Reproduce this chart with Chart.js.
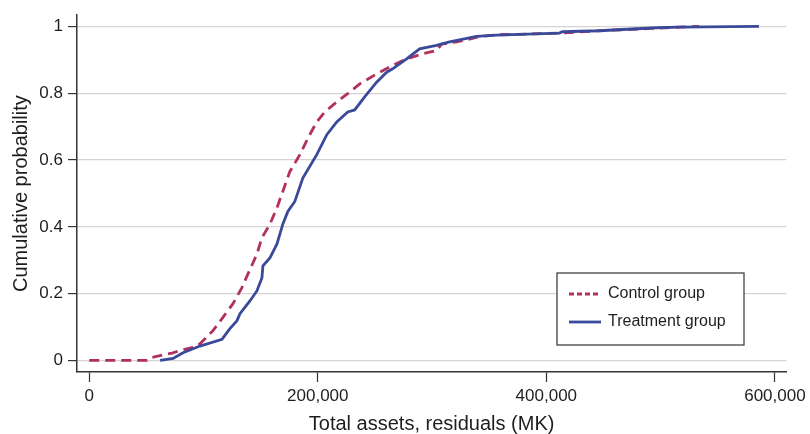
<!DOCTYPE html>
<html>
<head>
<meta charset="utf-8">
<script src="https://cdn.jsdelivr.net/npm/chart.js@4.4.1/dist/chart.umd.min.js"></script>
<style>
  html, body { margin: 0; padding: 0; background: #fff; }
  #wrap { width: 810px; height: 434px; }
</style>
</head>
<body>
<div id="wrap"><canvas id="chart" width="810" height="434"></canvas></div>
<script>
// curvas acumuladas
const controlX = [0, 50700, 55000, 72500, 79500, 92600, 97000, 108300, 117000, 125800, 133600, 138900, 146700, 151100, 158100, 164200, 169400, 175500, 184300, 191300, 199100, 206100, 216600, 227900, 236700, 251500, 265500, 277700, 291700, 303900, 308300, 321400, 332800, 341500, 359000, 411400, 446300, 492600, 516200, 533600];
const controlY = [0, 0, 0.009, 0.022, 0.030, 0.040, 0.050, 0.089, 0.129, 0.170, 0.218, 0.259, 0.318, 0.367, 0.408, 0.456, 0.506, 0.565, 0.616, 0.665, 0.714, 0.744, 0.774, 0.803, 0.828, 0.858, 0.883, 0.903, 0.918, 0.928, 0.947, 0.954, 0.962, 0.970, 0.975, 0.980, 0.987, 0.994, 0.998, 1];
const treatX = [62000, 73400, 82100, 96900, 116200, 120500, 123100, 129300, 131900, 140600, 146700, 151100, 152000, 158100, 164200, 169400, 173800, 179900, 186900, 199100, 207900, 216600, 226200, 232300, 241000, 251500, 260300, 265500, 277700, 289100, 303900, 315300, 338900, 356300, 411400, 414000, 446300, 496100, 516200, 586000];
const treatY = [0, 0.006, 0.023, 0.043, 0.063, 0.083, 0.095, 0.119, 0.140, 0.178, 0.208, 0.247, 0.283, 0.307, 0.348, 0.408, 0.446, 0.476, 0.546, 0.616, 0.676, 0.714, 0.744, 0.750, 0.789, 0.833, 0.863, 0.873, 0.903, 0.933, 0.943, 0.954, 0.970, 0.974, 0.980, 0.984, 0.987, 0.996, 0.998, 1];
const xTicks = [0, 200000, 400000, 600000];
const yTicks = [0, 0.2, 0.4, 0.6, 0.8, 1];
const seriesNames = ['Control group', 'Treatment group'];

const fonte = 'Liberation Sans, Arial, Helvetica, sans-serif';
const corControl = '#b3305e';
const corTreat = '#3a4999';

function pontos(xs, ys){
    return xs.map((x, i) => ({x: x, y: ys[i]}));
}

// legenda dentro da area do grafico, com moldura
const legendaBox = {
    id: 'legendaBox',
    afterDatasetsDraw(chart){
        const ctx = chart.ctx;
        const x0 = 557, y0 = 273, w = 187, h = 72;
        ctx.save();
        ctx.fillStyle = '#fff';
        ctx.fillRect(x0, y0, w, h);
        ctx.strokeStyle = '#333';
        ctx.lineWidth = 1.2;
        ctx.strokeRect(x0, y0, w, h);
        const linhas = [294, 322];
        chart.data.datasets.forEach((ds, i) => {
            const yy = linhas[i];
            ctx.beginPath();
            ctx.setLineDash(ds.borderDash && ds.borderDash.length ? [5, 3] : []);
            ctx.strokeStyle = ds.borderColor;
            ctx.lineWidth = ds.borderWidth;
            ctx.moveTo(569, yy);
            ctx.lineTo(601, yy);
            ctx.stroke();
            ctx.setLineDash([]);
            ctx.fillStyle = '#1e1e1e';
            ctx.font = '16px ' + fonte;
            ctx.textBaseline = 'middle';
            ctx.textAlign = 'left';
            ctx.fillText(ds.label, 608, yy);
        });
        ctx.restore();
    }
};

let ctx = document.getElementById('chart').getContext('2d');
let myChart = new Chart(ctx, {
    type: 'line',
    data: {
        datasets: [
            {label: seriesNames[0], data: pontos(controlX, controlY), borderColor: corControl, borderWidth: 2.8, borderDash: [10, 6], pointRadius: 0, tension: 0, order: 1},
            {label: seriesNames[1], data: pontos(treatX, treatY), borderColor: corTreat, borderWidth: 2.8, pointRadius: 0, tension: 0, order: 0}
        ]
    },
    options: {
        responsive: false,
        animation: false,
        layout: {padding: {left: 0, top: 12, right: 23, bottom: 0}},
        plugins: {legend: {display: false}, tooltip: {enabled: false}},
        scales: {
            x: {
                type: 'linear',
                min: -10700,
                max: 609900,
                afterBuildTicks: (s) => { s.ticks = xTicks.map(v => ({value: v})); },
                afterFit: (s) => { s.height = 62; },
                grid: {drawOnChartArea: false, drawTicks: true, tickLength: 10, tickColor: '#333', tickWidth: 1.2},
                border: {color: '#333', width: 1.5},
                ticks: {
                    color: '#1e1e1e', padding: 4, maxRotation: 0, autoSkip: false,
                    font: {family: fonte, size: 17},
                    callback: (v) => v.toLocaleString('en-US')
                },
                title: {display: true, text: 'Total assets, residuals (MK)', color: '#1e1e1e',
                    font: {family: fonte, size: 20, lineHeight: 1}, padding: {top: 0, bottom: 0}}
            },
            y: {
                min: -0.0347,
                max: 1.0336,
                afterBuildTicks: (s) => { s.ticks = yTicks.map(v => ({value: v})); },
                afterFit: (s) => { s.width = 77; },
                grid: {color: '#d3d3d3', lineWidth: 1.2, drawTicks: true, tickLength: 9, tickColor: '#333', tickWidth: 1.2},
                border: {color: '#333', width: 1.5},
                ticks: {
                    color: '#1e1e1e', padding: 5,
                    font: {family: fonte, size: 17},
                    callback: (v) => String(Number(v.toFixed(1)))
                },
                title: {display: true, text: 'Cumulative probability', color: '#1e1e1e',
                    font: {family: fonte, size: 20, lineHeight: 1}, padding: {top: 11, bottom: 0}}
            }
        }
    },
    plugins: [legendaBox]
});
</script>
</body>
</html>
